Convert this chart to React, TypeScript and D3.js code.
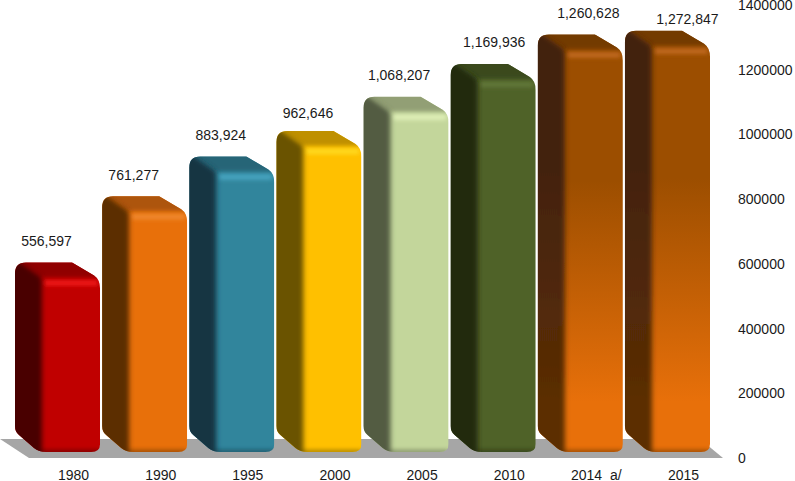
import React from "react";
import * as d3 from "d3";

const categories = ["1980", "1990", "1995", "2000", "2005", "2010", "2014 a/", "2015"];
const values = [556597, 761277, 883924, 962646, 1068207, 1169936, 1260628, 1272847];
const yTicks = [0, 200000, 400000, 600000, 800000, 1000000, 1200000, 1400000];

const frontColors = ["#c00000", "#e8700a", "#31859c", "#ffc000", "#c3d69b", "#4f6228", "#e8700a", "#e8700a"];
const frontTopColors = ["#c00000", "#e8700a", "#31859c", "#ffc000", "#c3d69b", "#4f6228", "#9c4e00", "#9c4e00"];
const sideColors = ["#4a0000", "#5c2e05", "#133642", "#6b5200", "#535b42", "#212a11", "#5c2e05", "#5c2e05"];
const sideTopColors = ["#4a0000", "#5c2e05", "#133642", "#6b5200", "#535b42", "#212a11", "#42220a", "#42220a"];
const topColors = ["#900000", "#ad5507", "#256577", "#bf9000", "#929f74", "#3b491e", "#733a00", "#733a00"];
const glowColors = ["#f51c1c", "#f08a30", "#4aa8c4", "#ffdc20", "#e2f2ba", "#64793a", "#c46c20", "#c46c20"];
const labelNudgeX = [0, 0, 0, 0, 4, 12, 19, 31];
const labelNudgeY = [0, 0, 0, 3, 0, 0, 0, 10];

const W = 795;
const H = 481;
const DX = 27;
const DY = 15;

const y = d3.scaleLinear().domain([0, 1400000]).range([458, 5]);
const x = d3.scaleBand<string>().domain(categories).range([15, 710]).paddingInner(0.024).paddingOuter(0);

function outline(x0: number, x1: number, top: number, bot: number) {
  const p = d3.path();
  const r = 11;
  p.moveTo(x0 + r, top);
  p.lineTo(x1 - 28, top);
  p.lineTo(x1 - 6, top + 13);
  p.quadraticCurveTo(x1, top + 17, x1, top + 26);
  p.lineTo(x1, bot - 8);
  p.quadraticCurveTo(x1, bot, x1 - 9, bot);
  p.lineTo(x0 + 31, bot);
  p.quadraticCurveTo(x0 + 24, bot, x0 + 19, bot - 4);
  p.lineTo(x0 + 4, bot - 17);
  p.quadraticCurveTo(x0, bot - 20, x0, bot - 26);
  p.lineTo(x0, top + r);
  p.quadraticCurveTo(x0, top, x0 + r, top);
  p.closePath();
  return p.toString();
}

export default function App() {
  const line = d3.line();
  const step = x.step();
  return (
    <svg
      width={W}
      height={H}
      viewBox={`0 0 ${W} ${H}`}
      style={{ position: "absolute", left: 0, top: 0, background: "#fff" }}
      fontFamily="'Liberation Sans', Arial, sans-serif"
      fontSize={14}
    >
      <defs>
        <filter id="soft" filterUnits="userSpaceOnUse" x="0" y="0" width={W} height={H}>
          <feGaussianBlur stdDeviation="2.8" />
        </filter>
        <filter id="softTop" filterUnits="userSpaceOnUse" x="0" y="0" width={W} height={H}>
          <feGaussianBlur stdDeviation="2" />
        </filter>
        {categories.map((c, i) => {
          const top = y(values[i]) - 15.5;
          return (
            <React.Fragment key={c}>
              <linearGradient id={`front${i}`} gradientUnits="userSpaceOnUse" x1="0" x2="0" y1={top} y2={452}>
                <stop offset="0.35" stopColor={frontTopColors[i]} />
                <stop offset="0.88" stopColor={frontColors[i]} />
              </linearGradient>
              <linearGradient id={`side${i}`} gradientUnits="userSpaceOnUse" x1="0" x2="0" y1={top} y2={452}>
                <stop offset="0.3" stopColor={sideTopColors[i]} />
                <stop offset="0.9" stopColor={sideColors[i]} />
              </linearGradient>
              <clipPath id={`clip${i}`}>
                <path d={outline(x(c)!, x(c)! + x.bandwidth(), top, 452)} />
              </clipPath>
            </React.Fragment>
          );
        })}
      </defs>

      <path d={line([[0, 439], [700, 439], [723, 458], [29, 458]])!} fill="#a6a6a6" />

      {categories.map((c, i) => {
        const x0 = x(c)!;
        const x1 = x0 + x.bandwidth();
        const top = y(values[i]) - 15.5;
        const bot = 452;
        const fx = x0 + DX;
        const fy = top + DY;
        return (
          <g key={c} clipPath={`url(#clip${i})`}>
            <rect x={x0} y={top} width={x1 - x0} height={bot - top} fill={`url(#front${i})`} />
            <path
              d={line([[x0 - 12, top - 12], [x1 + 12, top - 12], [x1 + 12, fy], [fx, fy]])!}
              fill={topColors[i]}
              filter="url(#softTop)"
            />
            <rect
              x={fx + 2}
              y={fy + 3}
              width={x1 - fx - 4}
              height={5}
              rx={2}
              fill={glowColors[i]}
              filter="url(#softTop)"
            />
            <rect x={x0} y={bot - 2} width={x1 - x0} height={4} fill={sideColors[i]} opacity={0.6} filter="url(#softTop)" />
            <path
              d={line([[x0 - 14, top - 14], [fx - 1, fy - 1], [fx, fy + 4], [fx, bot + 12], [x0 - 14, bot + 12]])!}
              fill={`url(#side${i})`}
              filter="url(#soft)"
            />
          </g>
        );
      })}

      {categories.map((c, i) => (
        <text
          key={c}
          x={x(c)! + x.bandwidth() / 2 - 11 + labelNudgeX[i]}
          y={y(values[i]) - 32 + labelNudgeY[i]}
          textAnchor="middle"
          fill="#1a1a1a"
        >
          {d3.format(",")(values[i])}
        </text>
      ))}

      {categories.map((c) => (
        <text key={c} x={x(c)! + step / 2 + 15} y={480} wordSpacing={4} textAnchor="middle" fill="#1a1a1a">
          {c}
        </text>
      ))}

      {yTicks.map((t) => (
        <text key={t} x={738} y={y(t) + 5} fill="#1a1a1a">
          {t}
        </text>
      ))}
    </svg>
  );
}
